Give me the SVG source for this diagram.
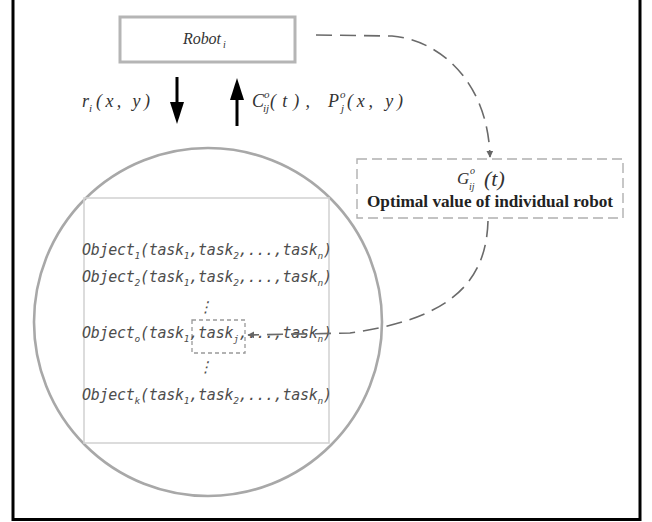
<svg xmlns="http://www.w3.org/2000/svg" width="652" height="522" viewBox="0 0 652 522">
  <style>
    .math { font-family: "Liberation Serif", "Times New Roman", serif; font-style: italic; fill: #333; }
    .bold { font-family: "Liberation Serif", "Times New Roman", serif; font-weight: bold; fill: #222; }
    .obj { font-family: "DejaVu Sans Mono", "Liberation Mono", monospace; font-style: italic; font-size: 15px; fill: #4d4d4d; }
    .sub { font-size: 9.5px; }
    .dash { fill: none; stroke: #6a6a6a; stroke-width: 1.6; stroke-dasharray: 16 8; }
    .frame { stroke: #000; stroke-width: 3; fill: none; }
  </style>
  <defs>
    <marker id="grayHead" viewBox="0 0 10 10" refX="9" refY="5" markerWidth="7" markerHeight="7" orient="auto" markerUnits="userSpaceOnUse">
      <path d="M0,0 L10,5 L0,10 z" fill="#666"/>
    </marker>
    <filter id="soft" x="-5%" y="-5%" width="110%" height="110%">
      <feGaussianBlur stdDeviation="0.6"/>
    </filter>
  </defs>

  <rect width="652" height="522" fill="#fff"/>

  <!-- outer frame (open at the top) -->
  <path class="frame" d="M13 0 V519.5 H640 V0"/>

  <!-- robot node -->
  <g id="robot">
    <rect x="120" y="17" width="175" height="45" fill="#fff" stroke="#b5b5b5" stroke-width="3"/>
    <text class="math" x="183" y="44" font-size="16" fill="#555" textLength="38" lengthAdjust="spacing">Robot</text>
    <text class="math" x="223" y="48" font-size="10" fill="#555">i</text>
  </g>

  <!-- exchange arrows between robot and object set -->
  <g id="exchange">
    <line x1="177" y1="77" x2="177" y2="104" stroke="#000" stroke-width="3"/>
    <path d="M170 102 L184 102 L177 124 z" fill="#000"/>
    <line x1="237" y1="98" x2="237" y2="126" stroke="#000" stroke-width="3"/>
    <path d="M230 100 L244 100 L237 78 z" fill="#000"/>

    <text class="math" x="82" y="107" font-size="18">r</text>
    <text class="math" x="89" y="112" font-size="11">i</text>
    <text class="math" x="96" y="107" font-size="18" textLength="54" lengthAdjust="spacing">(x, y)</text>

    <text class="math" x="252" y="107" font-size="18">C</text>
    <text class="math" x="264" y="98" font-size="11">o</text>
    <text class="math" x="263" y="112" font-size="11">ij</text>
    <text class="math" x="270" y="107" font-size="18" textLength="40" lengthAdjust="spacing">(t),</text>
    <text class="math" x="328" y="107" font-size="18">P</text>
    <text class="math" x="340" y="98" font-size="11">o</text>
    <text class="math" x="341" y="112" font-size="11">j</text>
    <text class="math" x="347" y="107" font-size="18" textLength="56" lengthAdjust="spacing">(x, y)</text>
  </g>

  <!-- optimal value node -->
  <g id="optimal">
    <rect x="357" y="159" width="266" height="59" fill="#fff" stroke="#b0b0b0" stroke-width="1.4" stroke-dasharray="10 5"/>
    <text class="math" x="457" y="184" font-size="17">G</text>
    <text class="math" x="470" y="174" font-size="10">o</text>
    <text class="math" x="469" y="190" font-size="10">ij</text>
    <text class="math" x="484" y="186" font-size="22">(t)</text>
    <text class="bold" x="490" y="207" text-anchor="middle" font-size="16" textLength="246" lengthAdjust="spacingAndGlyphs">Optimal value of individual robot</text>
  </g>

  <!-- object set: magnified circle with task table -->
  <g id="objects">
    <circle cx="208" cy="322" r="174" fill="#fff" stroke="#a8a8a8" stroke-width="2.6" filter="url(#soft)"/>
    <rect x="84" y="198" width="245" height="245" fill="none" stroke="#d4d4d4" stroke-width="1.6"/>
    <rect x="192" y="320" width="53" height="33" fill="none" stroke="#999" stroke-width="1.3" stroke-dasharray="4 3"/>

    <text class="obj" x="82" y="255" textLength="250" lengthAdjust="spacing">Object<tspan class="sub" dy="4">1</tspan><tspan dy="-4">(task</tspan><tspan class="sub" dy="4">1</tspan><tspan dy="-4">,task</tspan><tspan class="sub" dy="4">2</tspan><tspan dy="-4">,...,task</tspan><tspan class="sub" dy="4">n</tspan><tspan dy="-4">)</tspan></text>
    <text class="obj" x="82" y="282" textLength="250" lengthAdjust="spacing">Object<tspan class="sub" dy="4">2</tspan><tspan dy="-4">(task</tspan><tspan class="sub" dy="4">1</tspan><tspan dy="-4">,task</tspan><tspan class="sub" dy="4">2</tspan><tspan dy="-4">,...,task</tspan><tspan class="sub" dy="4">n</tspan><tspan dy="-4">)</tspan></text>
    <text class="obj" x="205" y="312" text-anchor="middle" font-size="14">⋮</text>
    <text class="obj" x="82" y="338" textLength="250" lengthAdjust="spacing">Object<tspan class="sub" dy="4">o</tspan><tspan dy="-4">(task</tspan><tspan class="sub" dy="4">1</tspan><tspan dy="-4">,task</tspan><tspan class="sub" dy="4">j</tspan><tspan dy="-4">,...,task</tspan><tspan class="sub" dy="4">n</tspan><tspan dy="-4">)</tspan></text>
    <text class="obj" x="205" y="372" text-anchor="middle" font-size="14">⋮</text>
    <text class="obj" x="82" y="400" textLength="250" lengthAdjust="spacing">Object<tspan class="sub" dy="4">k</tspan><tspan dy="-4">(task</tspan><tspan class="sub" dy="4">1</tspan><tspan dy="-4">,task</tspan><tspan class="sub" dy="4">2</tspan><tspan dy="-4">,...,task</tspan><tspan class="sub" dy="4">n</tspan><tspan dy="-4">)</tspan></text>
  </g>

  <!-- dashed connectors -->
  <g id="connectors">
    <path class="dash" d="M316 35 L392 36 C440 40 488 82 490 157" marker-end="url(#grayHead)"/>
    <path class="dash" d="M488 221 C486 290 440 320 350 333 L248 335" marker-end="url(#grayHead)"/>
  </g>
</svg>
